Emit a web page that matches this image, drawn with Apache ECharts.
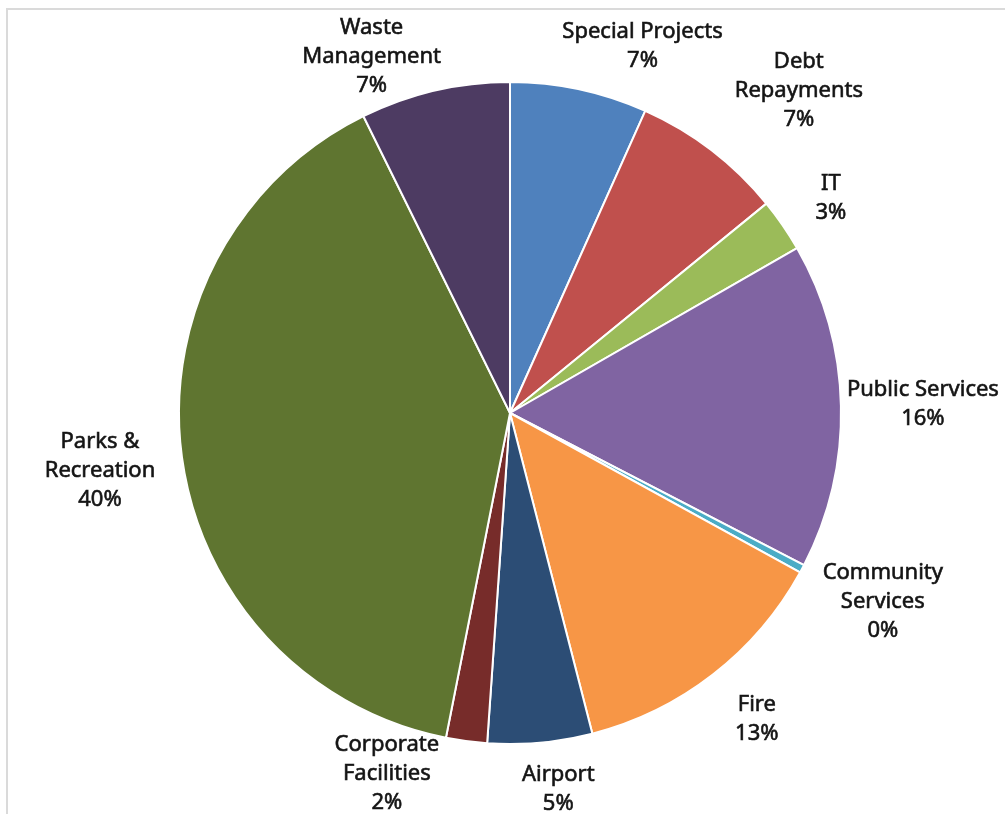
<!DOCTYPE html>
<html>
<head>
<meta charset="utf-8">
<script src="https://cdn.jsdelivr.net/npm/echarts@6/dist/echarts.min.js"></script>
<style>
  html, body { margin: 0; padding: 0; background: #ffffff; }
  #chart { width: 1005px; height: 814px; }
</style>
</head>
<body>
<div id="chart"></div>
<script>
// Budget share by department, in percent, clockwise from 12 o'clock
const categories = [
  'Special Projects', 'Debt\nRepayments', 'IT', 'Public Services',
  'Community\nServices', 'Fire', 'Airport', 'Corporate\nFacilities',
  'Parks &\nRecreation', 'Waste\nManagement'
];
const shares = [6.7, 7.4, 2.6, 15.9, 0.4, 13.0, 5.1, 2.0, 39.6, 7.3];
const colors = [
  '#4F81BD', '#C0504D', '#9BBB59', '#8064A2', '#4BACC6',
  '#F79646', '#2C4D75', '#772C2A', '#5F7530', '#4D3B62'
];

// Pie geometry
const CX = 510, CY = 413, R = 331;
// Label placement: angular shift from the slice's mid angle (deg) and distance past the rim (px)
const labelShift = [7.8, 4.4, 0.8, 0, -1.2, -1.1, -2.1, 11.3, -0.4, -8.1];
const labelGap   = [59, 102, 55, 82, 87, 62, 48, 50, 83, 51];

const total = shares.reduce((s, v) => s + v, 0);
const midAngles = [];
let acc = 0;
shares.forEach(v => {
  midAngles.push((acc + v / 2) / total * 360);
  acc += v;
});

const chart = echarts.init(document.getElementById('chart'), null, { renderer: 'canvas' });

chart.setOption({
  backgroundColor: '#ffffff',
  animation: false,
  graphic: [{
    type: 'rect',
    silent: true,
    shape: { x: 7, y: 9, width: 1200, height: 1000 },
    style: { fill: 'none', stroke: '#dadada', lineWidth: 2 }
  }],
  series: [{
    type: 'pie',
    center: [CX, CY],
    radius: R,
    startAngle: 90,
    clockwise: true,
    avoidLabelOverlap: false,
    emphasis: { disabled: true },
    itemStyle: { borderColor: '#ffffff', borderWidth: 2 },
    label: {
      show: true,
      position: 'outside',
      width: 240,
      overflow: 'none',
      align: 'center',
      fontFamily: '"Noto Sans", "DejaVu Sans", sans-serif',
      fontSize: 22,
      lineHeight: 29,
      color: '#141414',
      textBorderColor: '#141414',
      textBorderWidth: 0.6,
      formatter: p => p.name + '\n' + Math.round(p.value / total * 100) + '%'
    },
    labelLine: { show: false },
    labelLayout: params => {
      const i = params.dataIndex;
      const a = (midAngles[i] + labelShift[i]) * Math.PI / 180;
      const d = R + labelGap[i];
      return {
        x: CX + d * Math.sin(a),
        y: CY - d * Math.cos(a),
        align: 'center',
        verticalAlign: 'middle'
      };
    },
    data: categories.map((name, i) => ({
      name: name,
      value: shares[i],
      itemStyle: { color: colors[i] }
    }))
  }]
});
</script>
</body>
</html>
